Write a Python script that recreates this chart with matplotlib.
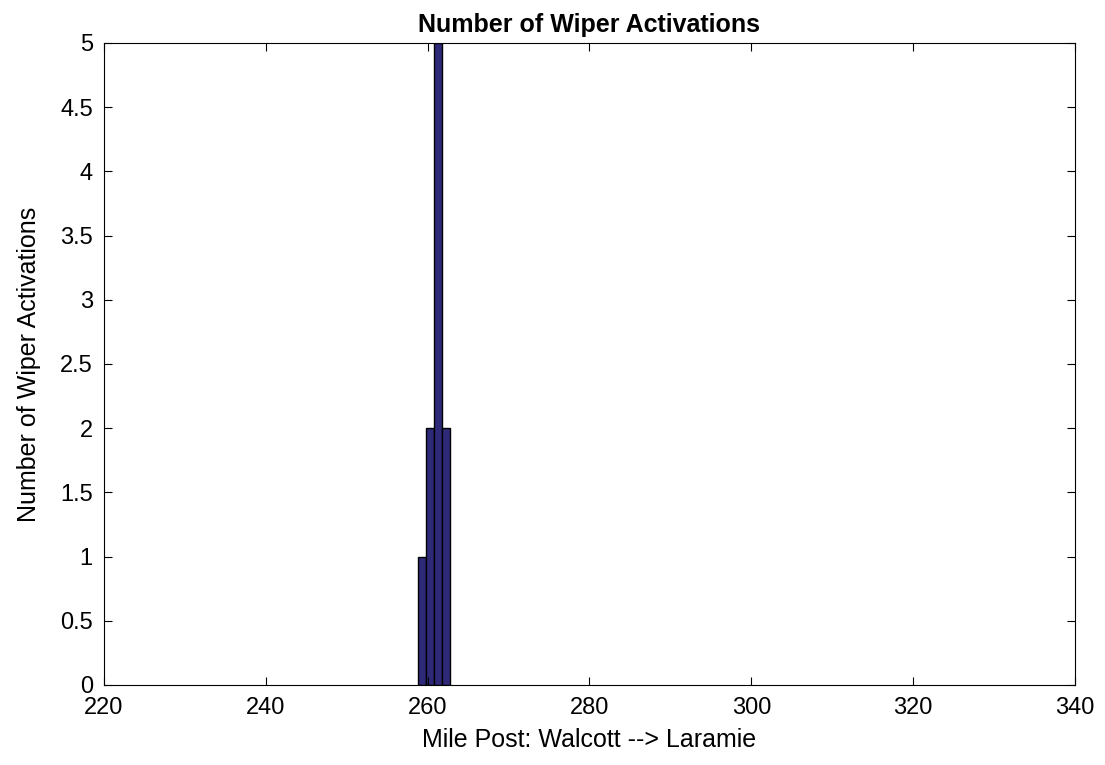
import numpy as np
import matplotlib
matplotlib.use("Agg")
import matplotlib.pyplot as plt

plt.rcParams['font.family'] = ['Liberation Sans', 'DejaVu Sans']

# histogram bins (mile post centres) and counts
mile_posts = [259.3, 260.3, 261.3, 262.3]
activations = [1, 2, 5, 2]
bin_width = 1.0

fig = plt.figure(figsize=(11.05, 7.65), dpi=100)
ax = fig.add_axes([0.0941, 0.1046, 0.8787, 0.8392])

ax.bar(mile_posts, activations, width=bin_width, color='#2e2a78',
       edgecolor='black', linewidth=1.0)

ax.set_xlim(220, 340)
ax.set_ylim(0, 5)
ax.set_xticks(np.arange(220, 341, 20))
ax.set_yticks(np.arange(0, 5.01, 0.5))
ax.set_yticklabels(['0', '0.5', '1', '1.5', '2', '2.5', '3', '3.5', '4', '4.5', '5'])
ax.tick_params(direction='in', top=True, right=True, labelsize=17, length=6)
ax.tick_params(axis='x', pad=9)
ax.tick_params(axis='y', pad=8)

ax.set_title('Number of Wiper Activations', fontsize=18, fontweight='bold', pad=8)
ax.set_xlabel('Mile Post: Walcott --> Laramie', fontsize=18, labelpad=6)
ax.set_ylabel('Number of Wiper Activations', fontsize=18, labelpad=14)

fig.savefig('out.png', dpi=100)
